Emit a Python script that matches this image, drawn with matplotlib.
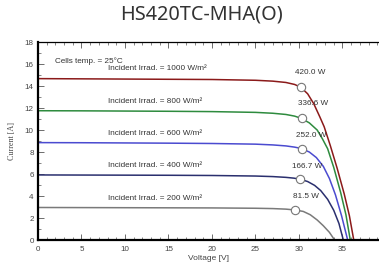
import matplotlib.pyplot as plt
from matplotlib.ticker import MultipleLocator

# I-V curves
v_1000 = [0, 5, 10, 15, 20, 25, 27, 28.5, 29.5, 30.2, 31.0, 31.7, 32.4, 32.9, 33.6, 34.4, 35.2, 35.8, 36.3]
i_1000 = [14.68, 14.66, 14.64, 14.62, 14.6, 14.53, 14.45, 14.33, 14.15, 13.9, 13.3, 12.4, 11.2, 10.3, 8.6, 6.5, 4.2, 2.2, 0]

v_800 = [0, 5, 10, 15, 20, 25, 27, 28.5, 29.5, 30.3, 31.2, 32.1, 32.7, 33.3, 34.0, 34.8, 35.4, 35.9]
i_800 = [11.76, 11.75, 11.73, 11.71, 11.68, 11.61, 11.53, 11.42, 11.27, 11.06, 10.65, 10.0, 9.2, 8.3, 6.6, 4.3, 2.3, 0]

v_600 = [0, 5, 10, 15, 20, 25, 27, 28.5, 29.5, 30.3, 31.2, 32.0, 32.8, 33.5, 34.2, 34.9, 35.6]
i_600 = [8.86, 8.85, 8.83, 8.81, 8.78, 8.72, 8.65, 8.56, 8.45, 8.32, 8.0, 7.5, 6.7, 5.6, 4.1, 2.2, 0]

v_400 = [0, 5, 10, 15, 20, 25, 27, 28.5, 29.4, 30.1, 31.0, 31.8, 32.5, 33.3, 34.0, 34.6, 35.1]
i_400 = [5.92, 5.91, 5.9, 5.89, 5.87, 5.82, 5.77, 5.7, 5.63, 5.54, 5.32, 4.97, 4.5, 3.7, 2.7, 1.5, 0]

v_200 = [0, 5, 10, 15, 20, 25, 27, 28.5, 29.6, 30.5, 31.3, 32.1, 32.8, 33.5, 34.1]
i_200 = [2.96, 2.95, 2.94, 2.93, 2.92, 2.89, 2.86, 2.81, 2.73, 2.6, 2.3, 1.82, 1.3, 0.7, 0]

mpp_v = [30.2, 30.3, 30.3, 30.1, 29.6]
mpp_i = [13.9, 11.06, 8.32, 5.54, 2.73]
mpp_labels = ["420.0 W", "336.6 W", "252.0 W", "166.7 W", "81.5 W"]
irrad_labels = ["Incident Irrad. = 1000 W/m²", "Incident Irrad. = 800 W/m²",
                "Incident Irrad. = 600 W/m²", "Incident Irrad. = 400 W/m²",
                "Incident Irrad. = 200 W/m²"]
irrad_y = [15.6, 12.6, 9.7, 6.75, 3.8]
power_y = [15.2, 12.4, 9.5, 6.65, 3.95]

colors = ["#8b1a1a", "#2e8b3e", "#4b4bd0", "#2a2f6e", "#7a7a7a"]
curves = [(v_1000, i_1000), (v_800, i_800), (v_600, i_600), (v_400, i_400), (v_200, i_200)]

fig = plt.figure(figsize=(3.79, 2.70), dpi=100)
ax = fig.add_axes([0.1, 0.111, 0.9, 0.733])

for (v, i), c in zip(curves, colors):
    ax.plot(v, i, color=c, lw=1.1, zorder=2)

ax.plot(mpp_v, mpp_i, 'o', ms=6, mfc='white', mec='#777777', mew=0.8, zorder=3)

txt = dict(fontsize=5.9, color='#333333', family='Liberation Sans')
ax.text(2.0, 16.3, "Cells temp. = 25°C", ha='left', va='center', **txt)
for lab, y in zip(irrad_labels, irrad_y):
    ax.text(8.1, y, lab, ha='left', va='center', **txt)
for lab, x, y in zip(mpp_labels, [31.3, 31.6, 31.4, 30.9, 30.8], power_y):
    ax.text(x, y, lab, ha='center', va='center', **txt)

ax.set_xlim(0, 39.2)
ax.set_ylim(0, 18)
ax.xaxis.set_major_locator(MultipleLocator(5))
ax.xaxis.set_minor_locator(MultipleLocator(1))
ax.yaxis.set_major_locator(MultipleLocator(2))
ax.yaxis.set_minor_locator(MultipleLocator(1))
ax.tick_params(axis='x', which='both', direction='in', top=True, labelsize=5.8,
               labelcolor='#444444', pad=4)
ax.tick_params(axis='x', which='major', length=4.3, width=0.6, color='#555555')
ax.tick_params(axis='x', which='minor', length=2.2, width=0.5, color='#555555')
ax.tick_params(axis='y', which='both', direction='in', labelsize=5.8,
               labelcolor='#444444', pad=3)
ax.tick_params(axis='y', which='major', length=4.3, width=0.6, color='#555555')
ax.tick_params(axis='y', which='minor', length=2.2, width=0.5, color='#555555')
for lab in ax.get_xticklabels() + ax.get_yticklabels():
    lab.set_family('Liberation Sans')

ax.spines['left'].set_linewidth(1.6)
ax.spines['bottom'].set_linewidth(1.6)
ax.spines['top'].set_linewidth(0.9)
ax.spines['right'].set_visible(False)

ax.set_xlabel("Voltage [V]", fontsize=6, color='#444444', family='Liberation Sans', labelpad=2)
ax.set_ylabel("Current [A]", fontsize=5.8, color='#444444', family='Liberation Serif', labelpad=6)

fig.text(0.531, 0.945, "HS420TC-MHA(O)", ha='center', va='center', fontsize=14.3,
         color='#333333', family='Noto Sans')

fig.savefig('out.png', dpi=100)
